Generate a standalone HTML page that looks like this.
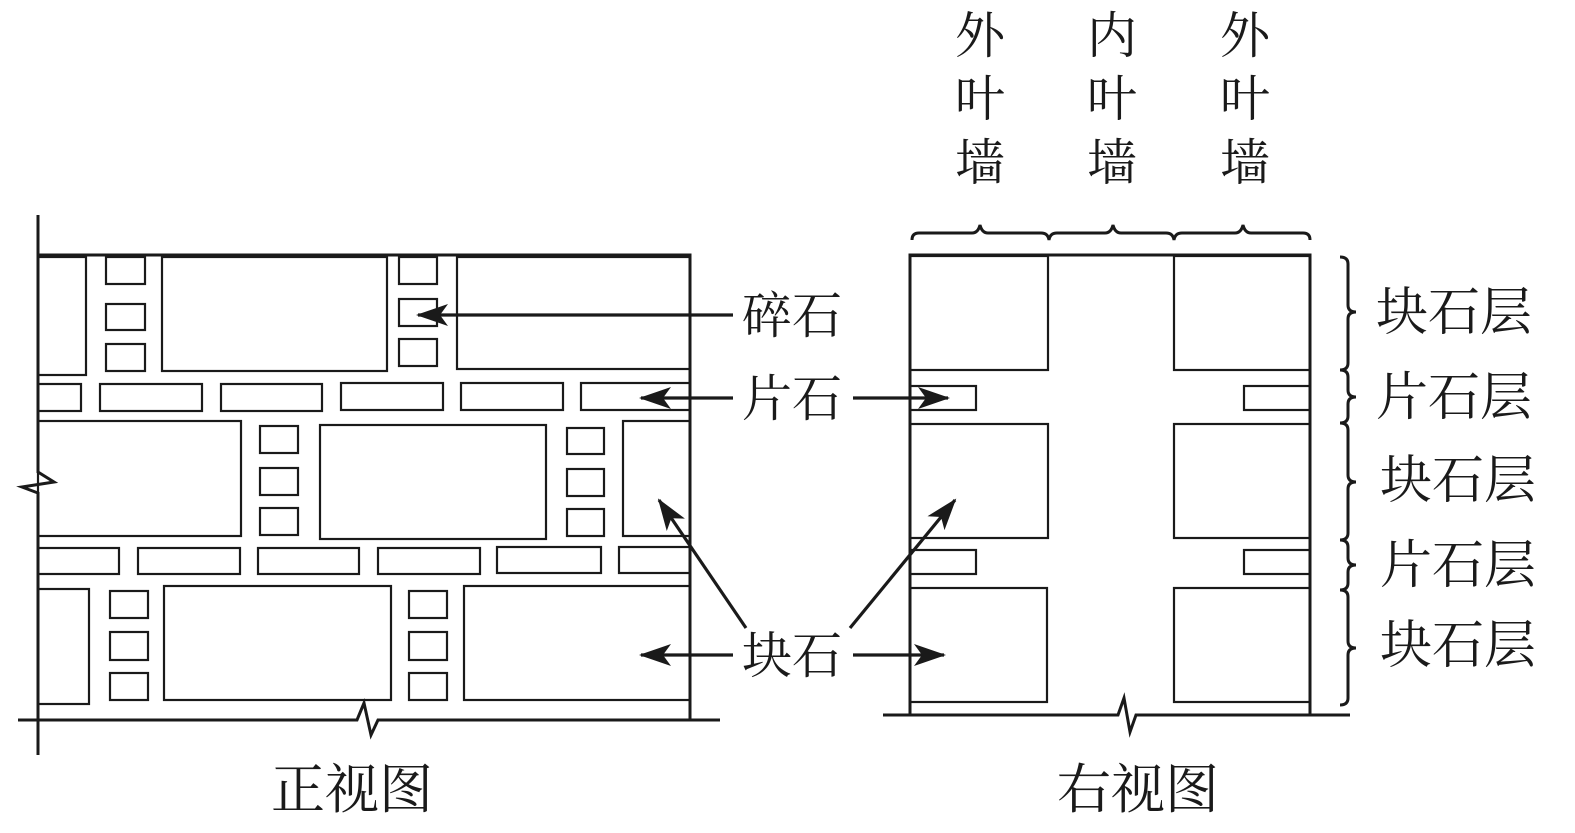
<!DOCTYPE html>
<html><head><meta charset="utf-8"><style>
html,body{margin:0;padding:0;background:#fff;}
svg{display:block;}
text{font-family:"Liberation Serif","Noto Serif CJK SC",serif;fill:#1a1a1a;}
</style></head><body>
<svg width="1575" height="833" viewBox="0 0 1575 833" xmlns="http://www.w3.org/2000/svg">
<defs>
<marker id="ah" viewBox="0 0 32 22" refX="30" refY="11" markerWidth="32" markerHeight="22" markerUnits="userSpaceOnUse" orient="auto">
<path d="M32,11 L0,0 L8,11 L0,22 Z" fill="#1a1a1a" stroke="none"/>
</marker>
</defs>
<g fill="none" stroke="#1a1a1a" stroke-width="2.2">
<!-- LEFT VIEW frame -->
<path d="M38,215 V472 L54,482 L22,487 L38,493 V755" stroke-width="3"/>
<path d="M38,255 H690 V720" stroke-width="3"/>
<path d="M18,720 H357 L364,703 L371,735 L378,720 H720" stroke-width="3"/>
<!-- row1 -->
<rect x="38" y="257" width="48" height="118"/>
<rect x="106" y="257" width="39" height="27"/>
<rect x="106" y="304" width="39" height="26"/>
<rect x="106" y="344" width="39" height="27"/>
<rect x="162" y="257" width="225" height="114"/>
<rect x="399" y="257" width="38" height="27"/>
<rect x="399" y="299" width="38" height="27"/>
<rect x="399" y="339" width="38" height="27"/>
<rect x="457" y="257" width="233" height="112"/>
<!-- slabs 1 -->
<rect x="38" y="384" width="43" height="27"/>
<rect x="100" y="384" width="102" height="27"/>
<rect x="221" y="384" width="101" height="27"/>
<rect x="341" y="383" width="102" height="27"/>
<rect x="461" y="383" width="102" height="27"/>
<rect x="581" y="383" width="109" height="27"/>
<!-- row2 -->
<rect x="38" y="421" width="203" height="115"/>
<rect x="260" y="426" width="38" height="27"/>
<rect x="260" y="468" width="38" height="27"/>
<rect x="260" y="508" width="38" height="27"/>
<rect x="320" y="425" width="226" height="114"/>
<rect x="567" y="428" width="37" height="26"/>
<rect x="567" y="469" width="37" height="27"/>
<rect x="567" y="509" width="37" height="27"/>
<rect x="623" y="421" width="67" height="115"/>
<!-- slabs 2 -->
<rect x="38" y="548" width="81" height="26"/>
<rect x="138" y="548" width="102" height="26"/>
<rect x="258" y="548" width="101" height="26"/>
<rect x="378" y="548" width="102" height="26"/>
<rect x="497" y="547" width="104" height="26"/>
<rect x="619" y="547" width="71" height="26"/>
<!-- row3 -->
<rect x="38" y="589" width="51" height="115"/>
<rect x="110" y="591" width="38" height="27"/>
<rect x="110" y="632" width="38" height="28"/>
<rect x="110" y="673" width="38" height="27"/>
<rect x="164" y="586" width="227" height="114"/>
<rect x="409" y="591" width="38" height="27"/>
<rect x="409" y="632" width="38" height="28"/>
<rect x="409" y="673" width="38" height="27"/>
<rect x="464" y="586" width="226" height="114"/>

<!-- RIGHT VIEW -->
<path d="M910,715 V255 H1310 V715" stroke-width="3"/>
<path d="M883,715 H1118 L1124,698 L1130,732 L1136,715 H1350" stroke-width="3"/>
<rect x="910" y="256" width="138" height="114"/>
<rect x="1174" y="256" width="136" height="114"/>
<rect x="910" y="386" width="66" height="24"/>
<rect x="1244" y="386" width="66" height="24"/>
<rect x="910" y="424" width="138" height="114"/>
<rect x="1174" y="424" width="136" height="114"/>
<rect x="910" y="550" width="66" height="24"/>
<rect x="1244" y="550" width="66" height="24"/>
<rect x="910" y="588" width="137" height="114"/>
<rect x="1174" y="588" width="136" height="114"/>

<!-- top brace -->
<path d="M912,240 Q912,233 919,233 H972 Q978,233 980,225 Q982,233 988,233 H1041 Q1048,233 1049,240 Q1050,233 1057,233 H1105 Q1111,233 1113,225 Q1115,233 1121,233 H1166 Q1173,233 1174,240 Q1175,233 1182,233 H1235 Q1241,233 1243,225 Q1245,233 1251,233 H1303 Q1310,233 1310,240" stroke-width="3"/>
<!-- right braces -->
<path d="M1340,257 Q1348,257 1348,264 V305 Q1348,312 1356,312 Q1348,312 1348,319 V363 Q1348,370 1340,370 Q1348,370 1348,377 V390 Q1348,397 1356,397 Q1348,397 1348,404 V416 Q1348,423 1340,423 Q1348,423 1348,430 V475 Q1348,482 1356,482 Q1348,482 1348,489 V533 Q1348,540 1340,540 Q1348,540 1348,547 V558 Q1348,565 1356,565 Q1348,565 1348,572 V583 Q1348,590 1340,590 Q1348,590 1348,597 V641 Q1348,648 1356,648 Q1348,648 1348,655 V698 Q1348,705 1340,705" stroke-width="3"/>

<!-- arrows -->
<g stroke-width="3.2">
<line x1="733" y1="315" x2="418" y2="315" marker-end="url(#ah)"/>
<line x1="733" y1="398" x2="641" y2="398" marker-end="url(#ah)"/>
<line x1="853" y1="398" x2="948" y2="398" marker-end="url(#ah)"/>
<line x1="733" y1="655" x2="641" y2="655" marker-end="url(#ah)"/>
<line x1="853" y1="655" x2="944" y2="655" marker-end="url(#ah)"/>
<line x1="746" y1="628" x2="659" y2="500" marker-end="url(#ah)"/>
<line x1="850" y1="628" x2="955" y2="500" marker-end="url(#ah)"/>
</g>
</g>

<g font-size="50">
<text x="792" y="333" text-anchor="middle">碎石</text>
<text x="792" y="416" text-anchor="middle">片石</text>
<text x="792" y="673" text-anchor="middle">块石</text>
<g text-anchor="middle">
<text x="980" y="53">外</text><text x="980" y="116">叶</text><text x="980" y="180">墙</text>
<text x="1112" y="53">内</text><text x="1112" y="116">叶</text><text x="1112" y="180">墙</text>
<text x="1245" y="53">外</text><text x="1245" y="116">叶</text><text x="1245" y="180">墙</text>
</g>
<g font-size="52">
<text x="1376" y="330">块石层</text>
<text x="1376" y="415">片石层</text>
<text x="1380" y="498">块石层</text>
<text x="1380" y="583">片石层</text>
<text x="1380" y="663">块石层</text>
</g>
<g font-size="54" text-anchor="middle">
<text x="352" y="808">正视图</text>
<text x="1138" y="808">右视图</text>
</g>
</g>
</svg>
</body></html>
